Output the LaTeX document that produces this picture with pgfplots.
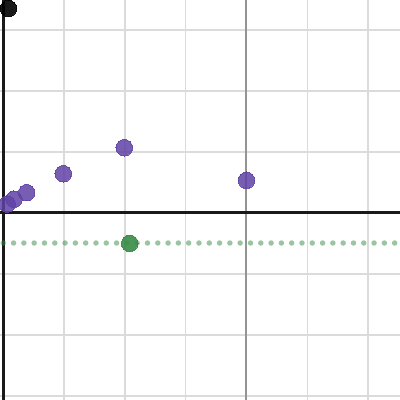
\documentclass[border=0pt]{standalone}
\usepackage{pgfplots}
\pgfplotsset{compat=1.18}
\definecolor{dpurple}{HTML}{6042A6}
\definecolor{dgreen}{HTML}{388C46}
\begin{document}
\begin{tikzpicture}
\path[use as bounding box] (0,0) rectangle (400pt,400pt);
\begin{axis}[
  at={(0,0)}, anchor=south west,
  width=400pt, height=400pt, scale only axis,
  xmin=-0.054, xmax=6.525, ymin=-3.066, ymax=3.492,
  xtick={1,2,3,4,5,6}, ytick={-3,-2,-1,1,2,3},
  xticklabels={}, yticklabels={},
  major tick length=0pt,
  axis line style={draw=none},
  grid=major,
  major grid style={draw=black!14, line width=1.5pt},
]
% darker major line at x=4
\addplot[draw=black!42, line width=2pt] coordinates {(4,-3.066) (4,3.492)};
% axes
\addplot[draw=black!90, line width=3pt] coordinates {(0,-3.066) (0,3.492)};
\addplot[draw=black!90, line width=3pt] coordinates {(-0.054,0) (6.525,0)};
% dotted green line
\addplot[draw=dgreen, draw opacity=0.5, line width=5.5pt, line cap=round, dash pattern=on 0pt off 10.3pt] coordinates {(0,-0.492) (6.525,-0.492)};
% purple points
\addplot[only marks, mark=*, mark size=8.3pt, mark options={draw=dpurple, line width=0pt, fill=dpurple, opacity=0.85}] coordinates {
 (0.066,0.148) (0.176,0.225) (0.385,0.333) (0.987,0.644) (1.99,1.07) (4.0,0.536)};
% green point
\addplot[only marks, mark=*, mark size=8.3pt, mark options={draw=dgreen, line width=0pt, fill=dgreen, opacity=0.9}] coordinates {(2.08,-0.497)};
% black point
\addplot[only marks, mark=*, mark size=8.3pt, mark options={draw=black, line width=0pt, fill=black, opacity=0.9}] coordinates {(0.085,3.355)};
\end{axis}
\end{tikzpicture}
\end{document}
